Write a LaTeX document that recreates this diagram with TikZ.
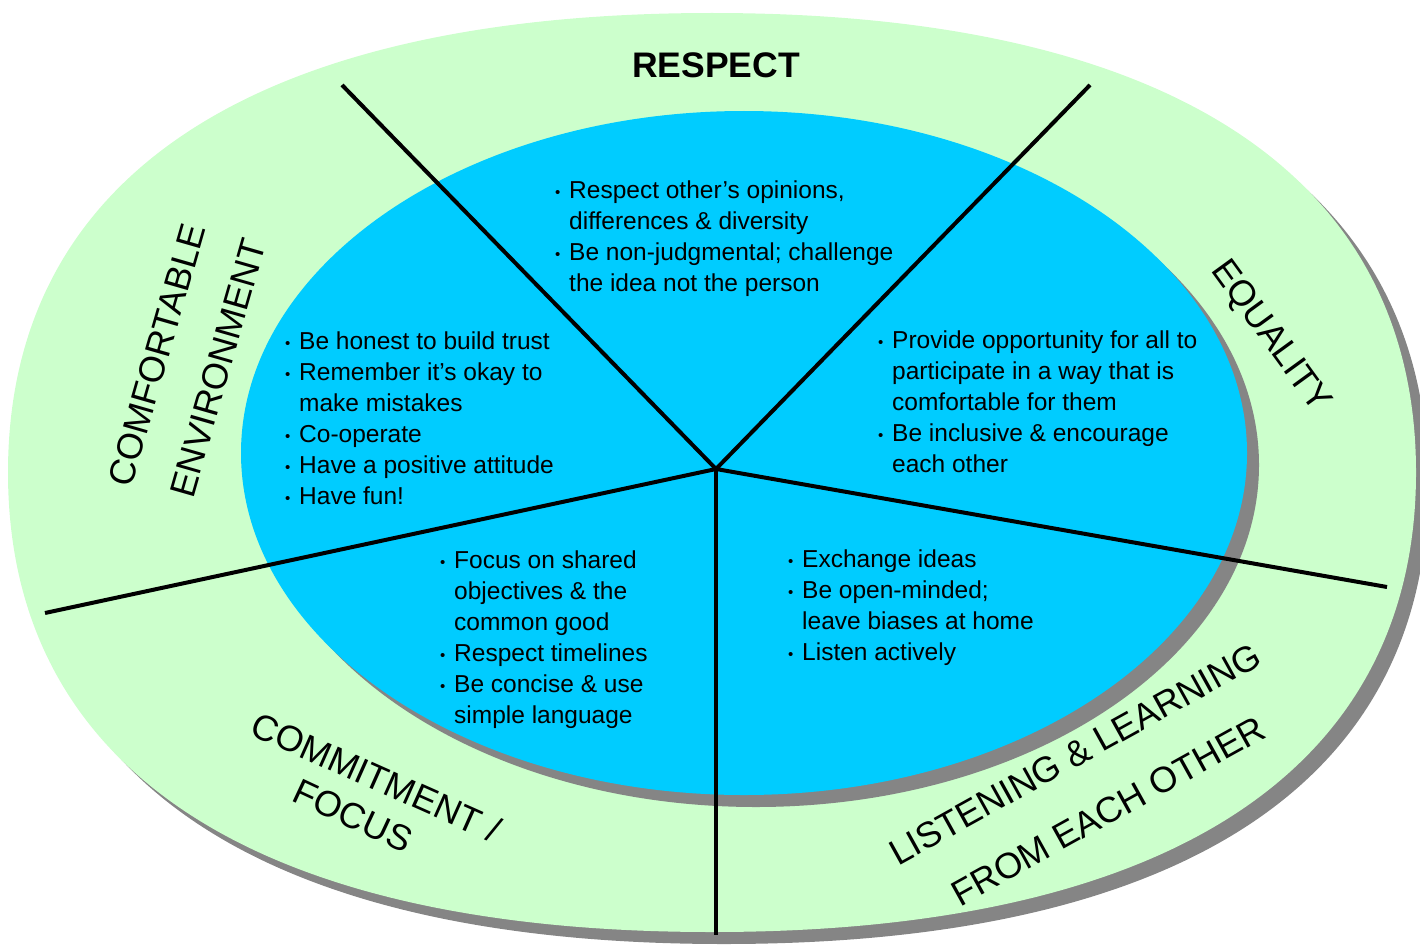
\documentclass[tikz,border=0pt]{standalone}
\usepackage{fontspec}
\setmainfont{Liberation Sans}
\definecolor{ringgreen}{HTML}{CCFFCC}
\definecolor{coreblue}{HTML}{00CCFF}
\definecolor{shadowgray}{HTML}{858585}
\newcommand\bul{\makebox[14pt][l]{\raisebox{0.5pt}{\fontsize{15}{15}\selectfont\textbullet}}}
\newcommand\ind{\hspace*{14pt}}
\newcommand\ringshape{(1416,472.5) .. controls (1416,770.3) and (1168.2,932) .. (712,932) .. controls (255.8,932) and (8,770.3) .. (8,472.5) .. controls (8,174.7) and (255.8,13) .. (712,13) .. controls (1168.2,13) and (1416,174.7) .. (1416,472.5) -- cycle}
\begin{document}
\begin{tikzpicture}[x=1pt,y=-1pt,
  body/.style={anchor=base west, inner sep=0pt, font=\fontsize{24.5}{31}\selectfont, text=black},
  head/.style={anchor=center, inner sep=0pt, font=\fontsize{36}{40}\selectfont, text=black},
  spoke/.style={line width=4pt, draw=black}]
\useasboundingbox (0,0) rectangle (1420,947);
\clip (0,0) rectangle (1420,947);
% outer ring with shadow
\fill[shadowgray, shift={(12,12)}] \ringshape;
\fill[ringgreen] \ringshape;
% inner core with shadow
\fill[shadowgray] (756,465) ellipse [x radius=503pt, y radius=342pt];
\fill[coreblue] (744,453) ellipse [x radius=503pt, y radius=342pt];
% spokes
\coordinate (hub) at (716,469);
\coordinate (sp1) at (342,85);
\coordinate (sp2) at (1090,85);
\coordinate (sp3) at (1387,587);
\coordinate (sp4) at (716,935);
\coordinate (sp5) at (45,613);
\draw[spoke] (hub) -- (sp1);
\draw[spoke] (hub) -- (sp2);
\draw[spoke] (hub) -- (sp3);
\draw[spoke] (hub) -- (sp4);
\draw[spoke] (hub) -- (sp5);
% headings
\node[head, anchor=base, font=\fontsize{35.5}{40}\selectfont\bfseries] (hRespect) at (716,78) {RESPECT};
\node[head, rotate=74] (hComf) at (157,355) {COMFORTABLE};
\node[head, rotate=74] (hEnv) at (218,368) {ENVIRONMENT};
\node[head, rotate=-54] (hEq) at (1270,337) {EQUALITY};
\node[head, rotate=-24] (hCommit) at (376,777) {COMMITMENT /};
\node[head, rotate=-25] (hFocus) at (353,816) {FOCUS};
\node[head, rotate=29] (hListen) at (1075,754) {LISTENING \& LEARNING};
\node[head, rotate=29] (hFrom) at (1108,811) {FROM EACH OTHER};
% bullet texts
\node[body] (tRespect) at (555,198) {\begin{tabular}[t]{@{}l@{}}
\bul Respect other’s opinions,\\
\ind differences \& diversity\\
\bul Be non-judgmental; challenge\\
\ind the idea not the person
\end{tabular}};
\node[body] (tComf) at (285,349) {\begin{tabular}[t]{@{}l@{}}
\bul Be honest to build trust\\
\bul Remember it’s okay to\\
\ind make mistakes\\
\bul Co-operate\\
\bul Have a positive attitude\\
\bul Have fun!
\end{tabular}};
\node[body] (tEq) at (878,348) {\begin{tabular}[t]{@{}l@{}}
\bul Provide opportunity for all to\\
\ind participate in a way that is\\
\ind comfortable for them\\
\bul Be inclusive \& encourage\\
\ind each other
\end{tabular}};
\node[body] (tCommit) at (440,568) {\begin{tabular}[t]{@{}l@{}}
\bul Focus on shared\\
\ind objectives \& the\\
\ind common good\\
\bul Respect timelines\\
\bul Be concise \& use\\
\ind simple language
\end{tabular}};
\node[body] (tListen) at (788,567) {\begin{tabular}[t]{@{}l@{}}
\bul Exchange ideas\\
\bul Be open-minded;\\
\ind leave biases at home\\
\bul Listen actively
\end{tabular}};
\end{tikzpicture}
\end{document}
